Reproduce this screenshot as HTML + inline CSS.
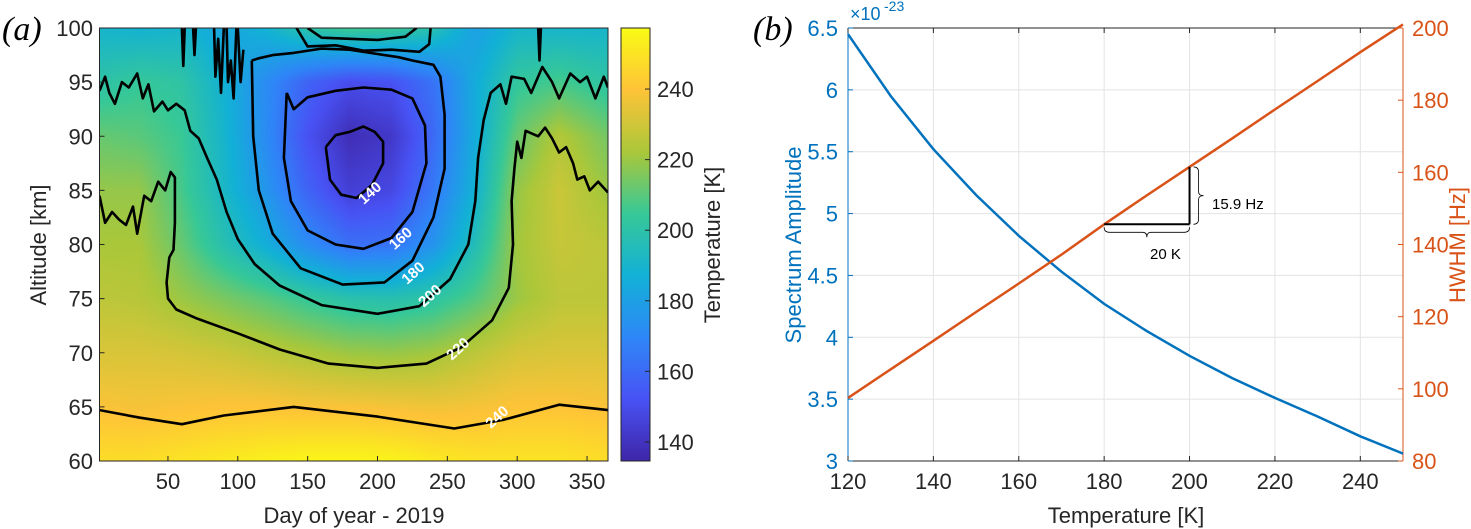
<!DOCTYPE html>
<html><head><meta charset="utf-8">
<style>
html,body{margin:0;padding:0;background:#fff;}
body{width:1471px;height:529px;overflow:hidden;position:relative;font-family:"Liberation Sans",sans-serif;}
svg{position:absolute;left:0;top:0;}
canvas{position:absolute;left:99px;top:28px;}
</style></head>
<body>
<canvas id="heat" width="509" height="433"></canvas>
<svg id="chart" width="1471" height="529"></svg>
<script>
// ---------- Panel (a) data ----------
const days = [1,30,60,90,120,150,180,210,240,270,300,330,365];
const alts = [60,65,70,75,80,85,90,95,100];
const temp60  = [248,248,250,252,254,256,256,255,252,250,250,250,248];
const temp65  = [239,238,239,240,240,239,239,238,237,238,240,240,239];
const temp70  = [232,232,231,229,226,223,220,219,221,226,231,232,232];
const temp75  = [226,225,220,215,210,204,199,198,201,209,220,226,226];
const temp80  = [222,222,212,198,186,172,162,163,175,196,221,228,226];
const temp85  = [219,219,207,192,176,158,145,148,165,188,219,229,220];
const temp90  = [212,210,205,190,172,152,138,142,160,185,212,224,214];
const temp95  = [200,204,201,188,172,158,150,152,163,185,203,207,201];
const temp100 = [190,188,190,182,188,200,206,205,198,180,190,190,190];
const tempGrid = [temp60,temp65,temp70,temp75,temp80,temp85,temp90,temp95,temp100];

const c240 = [[1,64.7],[30,64],[60,63.4],[90,64.2],[140,65],[200,64.1],[255,63],[290,63.8],[330,65.2],[365,64.7]];
const c220 = [[1,84.5],[5,82],[10,83],[15,82.3],[20,81.8],[25,83.5],[28,81],[33,84.5],[38,84],[43,85.8],[48,85],[52,86.7],[55,86.2],[55,82],[54,79.5],[51,78.8],[49,76.5],[50,75],[56,74],[70,73.2],[100,71.8],[130,70.3],[165,69],[200,68.6],[235,69],[260,70.5],[282,73],[294,76],[297,80],[296,84],[298,87],[300,89.5],[303,88],[306,90.5],[315,90],[320,90.8],[325,89.8],[330,88.5],[335,89],[340,87.5],[343,86],[348,86.3],[352,85],[358,85.8],[365,84.8]];
const c200 = [[1,94.2],[5,95.5],[8,94],[12,93],[17,95],[22,94.5],[28,95.8],[32,93.5],[36,94.8],[40,92.3],[46,93.2],[50,92.4],[56,93],[62,92.4],[66,90.5],[72,89.8],[78,88],[85,86],[92,83],[100,80.5],[112,78.2],[130,76.2],[160,74.4],[200,73.6],[230,74.3],[252,76.8],[265,80],[270,84],[272,88],[276,91.5],[281,94],[288,94.8],[292,93],[296,95.5],[305,95.3],[310,94],[318,96.4],[325,95],[330,93.5],[338,95.8],[345,95],[350,95.5],[356,93.5],[362,95.5],[365,94.5]];
const c180 = [[110,97],[111,90],[115,85],[125,81],[145,77.8],[175,76.3],[205,76.5],[225,78.5],[240,82.5],[248,87],[248,92],[245,95.5],[240,96.6],[225,97],[215,97.3],[200,97.6],[180,98],[160,98.1],[140,97.7],[125,97.5],[115,97.2],[110,97]];
const c160 = [[135,94],[133,88],[138,84],[150,81.3],[170,80],[190,79.6],[210,80.6],[225,83],[235,87.5],[234,91],[225,93.5],[210,94.3],[190,94.5],[170,94.2],[150,93.6],[140,92.5],[135,94]];
const c140 = [[163,89],[166,86],[174,84.6],[185,84.3],[196,85.5],[204,87.5],[204,89.5],[198,90.4],[190,90.9],[180,90.4],[170,90.1],[163,89]];
const c200top = [[142,100],[150,98.3],[170,98.4],[190,97.9],[210,98],[230,97.8],[237,98.5],[238,100]];
const c220top = [[150,100],[160,99.1],[180,99],[200,98.9],[220,99.2],[228,100]];
const spikes = [[[60,100],[61,96.5],[62,100]],[[68,100],[69,97.5],[70,100]],[[83,100],[84,95.5],[86,99],[88,94],[90,100]],[[92,100],[93,95],[95,97],[97,93.5],[99,100]],[[100,100],[102,95],[104,98]],[[315,100],[316,97],[317,100]]];
const contourLevels = ["140","160","180","200","220","240"];
const labelPos = [[195,84.7],[217,80.5],[226,77.3],[238,75.2],[258,70.3],[286,64]];
const dayTicks = [50,100,150,200,250,300,350];
const altTicks = [60,65,70,75,80,85,90,95,100];
const cbTicks = [140,160,180,200,220,240];

// ---------- Panel (b) data ----------
const tempK = [120,130,140,150,160,170,180,190,200,210,220,230,240,250];
const amplitude = [6.45,5.95,5.52,5.15,4.82,4.53,4.27,4.05,3.85,3.67,3.51,3.36,3.2,3.06];
const hwhm = [97.5,105.4,113.3,121.3,129.2,137.2,145.6,153.6,161.5,169.4,177.4,185.3,193.3,201];
const tTicks = [120,140,160,180,200,220,240];
const ampTicks = [3,3.5,4,4.5,5,5.5,6,6.5];
const hzTicks = [80,100,120,140,160,180,200];

// ---------- helpers ----------
const NS="http://www.w3.org/2000/svg";
const svg=document.getElementById('chart');
function mk(tag,attrs,parent){const e=document.createElementNS(NS,tag);for(const k in attrs)e.setAttribute(k,attrs[k]);(parent||svg).appendChild(e);return e;}
function txt(s,attrs,parent){const e=mk('text',attrs,parent);e.textContent=s;return e;}

// axes (a)
const AX0=99.5,AX1=608,AY0=461,AY1=28;
const xDay=d=>AX0+(d-1)/(365-1)*(AX1-AX0);
const yAlt=a=>AY0-(a-60)/40*(AY0-AY1);
const CB_MIN=134.6,CB_MAX=257.3;
const parula=[[0,62,38,168],[1/7,72,82,244],[2/7,46,135,247],[3/7,18,177,214],[4/7,55,200,151],[5/7,171,199,57],[6/7,254,195,56],[1,249,251,21]];
function cmap(t){t=Math.max(0,Math.min(1,t));for(let i=1;i<parula.length;i++){if(t<=parula[i][0]){const a=parula[i-1],b=parula[i];const f=(t-a[0])/(b[0]-a[0]);return [a[1]+(b[1]-a[1])*f,a[2]+(b[2]-a[2])*f,a[3]+(b[3]-a[3])*f];}}return parula[parula.length-1].slice(1);}
function lookup(d,a){
  let i=0;while(i<days.length-2&&d>days[i+1])i++;
  let j=0;while(j<alts.length-2&&a>alts[j+1])j++;
  const fx=Math.max(0,Math.min(1,(d-days[i])/(days[i+1]-days[i])));
  const fy=Math.max(0,Math.min(1,(a-alts[j])/(alts[j+1]-alts[j])));
  const v00=tempGrid[j][i],v10=tempGrid[j][i+1],v01=tempGrid[j+1][i],v11=tempGrid[j+1][i+1];
  return v00*(1-fx)*(1-fy)+v10*fx*(1-fy)+v01*(1-fx)*fy+v11*fx*fy;
}
// heatmap
(function(){
  const cv=document.getElementById('heat');const ctx=cv.getContext('2d');
  const W=cv.width,H=cv.height;const img=ctx.createImageData(W,H);
  for(let py=0;py<H;py++){for(let px=0;px<W;px++){
    const d=1+(px+0.5)/W*364;const a=100-(py+0.5)/H*40;
    const c=cmap((lookup(d,a)-CB_MIN)/(CB_MAX-CB_MIN));
    const k=(py*W+px)*4;img.data[k]=c[0];img.data[k+1]=c[1];img.data[k+2]=c[2];img.data[k+3]=255;}}
  ctx.putImageData(img,0,0);
})();

// contours
const gC=mk('g',{'clip-path':'url(#clipA)'});


const defs=mk('defs',{});
const cp=mk('clipPath',{id:'clipA'},defs);mk('rect',{x:AX0,y:AY1,width:AX1-AX0,height:AY0-AY1},cp);
const grad=mk('linearGradient',{id:'cbGrad',x1:0,y1:1,x2:0,y2:0},defs);
for(let i=0;i<=28;i++){const c=cmap(i/28);mk('stop',{offset:(i/28),'stop-color':`rgb(${c.map(Math.round).join(',')})`},grad);}
function drawLine(pts,name){
  const p=mk('polyline',{points:pts.map(q=>xDay(q[0]).toFixed(1)+','+yAlt(q[1]).toFixed(1)).join(' '),fill:'none',stroke:'#000','stroke-width':2.6,'stroke-linejoin':'round'},gC);
  
  
}
drawLine(c240,'contour-240');drawLine(c220,'contour-220');drawLine(c200,'contour-200');
drawLine(c180,'contour-180');drawLine(c160,'contour-160');drawLine(c140,'contour-140');
drawLine(c200top,'contour-top-200');drawLine(c220top,'contour-top-220');
spikes.forEach(s=>drawLine(s,'contour-spike'));
labelPos.forEach((p,i)=>{
  const t=txt(contourLevels[i],{x:xDay(p[0]),y:yAlt(p[1]),'font-size':15,'font-weight':'bold',fill:'#fff','text-anchor':'middle','dominant-baseline':'middle',transform:`rotate(-42 ${xDay(p[0])} ${yAlt(p[1])})`});
  
  
});
// axes box (a)
const boxA=mk('rect',{x:AX0,y:AY1,width:AX1-AX0,height:AY0-AY1,fill:'none',stroke:'#262626','stroke-width':1});

dayTicks.forEach(d=>{
  mk('line',{x1:xDay(d),x2:xDay(d),y1:AY0,y2:AY0-5,stroke:'#262626'});
  const t=txt(String(d),{x:xDay(d),y:489,'font-size':22,fill:'#262626','text-anchor':'middle'});
  
});
altTicks.forEach(a=>{
  mk('line',{x1:AX0,x2:AX0+5,y1:yAlt(a),y2:yAlt(a),stroke:'#262626'});
  const t=txt(String(a),{x:93,y:yAlt(a)+8,'font-size':22,fill:'#262626','text-anchor':'end'});
  
});
let t;
t=txt('Day of year - 2019',{x:354,y:523,'font-size':22,fill:'#262626','text-anchor':'middle'});
t=txt('Altitude [km]',{x:46,y:245,'font-size':22,fill:'#262626','text-anchor':'middle',transform:'rotate(-90 46 245)'});
t=txt('(a)',{x:2,y:40,'font-size':34,'font-style':'italic','font-family':'Liberation Serif, serif',fill:'#000'});
// colorbar
const CBX=621,CBW=29;
const yCb=v=>AY0-(v-CB_MIN)/(CB_MAX-CB_MIN)*(AY0-AY1);
const cb=mk('rect',{x:CBX,y:AY1,width:CBW,height:AY0-AY1,fill:'url(#cbGrad)',stroke:'#262626','stroke-width':1});

cbTicks.forEach(v=>{
  mk('line',{x1:CBX+CBW-5,x2:CBX+CBW,y1:yCb(v),y2:yCb(v),stroke:'#262626'});
  const tt=txt(String(v),{x:657,y:yCb(v)+8,'font-size':22,fill:'#262626'});
  
});
t=txt('Temperature [K]',{x:720,y:245,'font-size':22,fill:'#262626','text-anchor':'middle',transform:'rotate(-90 720 245)'});

// ---------- Panel (b) ----------
const BX0=848,BX1=1403,BY0=461,BY1=28;
const xT=v=>BX0+(v-120)/130*(BX1-BX0);
const yAmp=v=>BY0-(v-3)/3.5*(BY0-BY1);
const yHz=v=>BY0-(v-80)/120*(BY0-BY1);
tTicks.forEach(v=>mk('line',{x1:xT(v),x2:xT(v),y1:BY1,y2:BY0,stroke:'#e3e3e3'}));
ampTicks.forEach(v=>mk('line',{x1:BX0,x2:BX1,y1:yAmp(v),y2:yAmp(v),stroke:'#e3e3e3'}));
mk('line',{x1:BX0,x2:BX1,y1:BY1,y2:BY1,stroke:'#262626'});
mk('line',{x1:BX0,x2:BX1,y1:BY0,y2:BY0,stroke:'#262626'});
mk('line',{x1:BX0,x2:BX0,y1:BY1,y2:BY0,stroke:'#0072BD'});
mk('line',{x1:BX1,x2:BX1,y1:BY1,y2:BY0,stroke:'#D95319'});
tTicks.forEach(v=>{
  mk('line',{x1:xT(v),x2:xT(v),y1:BY0,y2:BY0-5,stroke:'#262626'});
  mk('line',{x1:xT(v),x2:xT(v),y1:BY1,y2:BY1+5,stroke:'#262626'});
  const tt=txt(String(v),{x:xT(v),y:489,'font-size':22,fill:'#262626','text-anchor':'middle'});
  
});
ampTicks.forEach(v=>{
  mk('line',{x1:BX0,x2:BX0+5,y1:yAmp(v),y2:yAmp(v),stroke:'#0072BD'});
  const tt=txt(String(v),{x:838,y:yAmp(v)+8,'font-size':22,fill:'#0072BD','text-anchor':'end'});
  
});
hzTicks.forEach(v=>{
  mk('line',{x1:BX1-5,x2:BX1,y1:yHz(v),y2:yHz(v),stroke:'#D95319'});
  const tt=txt(String(v),{x:1412,y:yHz(v)+8,'font-size':22,fill:'#D95319'});
  
});
t=txt('×10',{x:850,y:20,'font-size':18,fill:'#0072BD'});
t=txt('-23',{x:884,y:11,'font-size':14,fill:'#0072BD'});
const lAmp=mk('polyline',{points:tempK.map((v,i)=>xT(v).toFixed(1)+','+yAmp(amplitude[i]).toFixed(1)).join(' '),fill:'none',stroke:'#0072BD','stroke-width':2.5});

const lHz=mk('polyline',{points:tempK.map((v,i)=>xT(v).toFixed(1)+','+yHz(hwhm[i]).toFixed(1)).join(' '),fill:'none',stroke:'#D95319','stroke-width':2.5});

// slope annotation
const h180=hwhm[6],h200=hwhm[8];
const ann=mk('g',{});
mk('line',{x1:xT(180),x2:xT(200),y1:yHz(h180),y2:yHz(h180),stroke:'#000','stroke-width':2},ann);
mk('line',{x1:xT(200),x2:xT(200),y1:yHz(h180),y2:yHz(h200),stroke:'#000','stroke-width':2},ann);
const bx0=xT(180),bx1=xT(200),by=yHz(h180)+3,bm=(bx0+bx1)/2;
mk('path',{d:`M${bx0},${by} q0,5 5,5 L${bm-4},${by+5} q4,0 4,5 q0,-5 4,-5 L${bx1-5},${by+5} q5,0 5,-5`,fill:'none',stroke:'#000','stroke-width':0.8},ann);
const vx=xT(200)+4,vy0=yHz(h200),vy1=yHz(h180),vm=(vy0+vy1)/2;
mk('path',{d:`M${vx},${vy0} q5,0 5,5 L${vx+5},${vm-4} q0,4 5,4 q-5,0 -5,4 L${vx+5},${vy1-5} q0,5 -5,5`,fill:'none',stroke:'#000','stroke-width':0.8},ann);
t=txt('15.9 Hz',{x:1212,y:209,'font-size':15,fill:'#000'},ann);
t=txt('20 K',{x:1150,y:259,'font-size':15,fill:'#000'},ann);
t=txt('Temperature [K]',{x:1126,y:523,'font-size':22,fill:'#262626','text-anchor':'middle'});
t=txt('Spectrum Amplitude',{x:801,y:245,'font-size':22,fill:'#0072BD','text-anchor':'middle',transform:'rotate(-90 801 245)'});
t=txt('HWHM [Hz]',{x:1465,y:245,'font-size':22,fill:'#D95319','text-anchor':'middle',transform:'rotate(-90 1465 245)'});
t=txt('(b)',{x:753,y:40,'font-size':34,'font-style':'italic','font-family':'Liberation Serif, serif',fill:'#000'});
</script>
</body></html>
